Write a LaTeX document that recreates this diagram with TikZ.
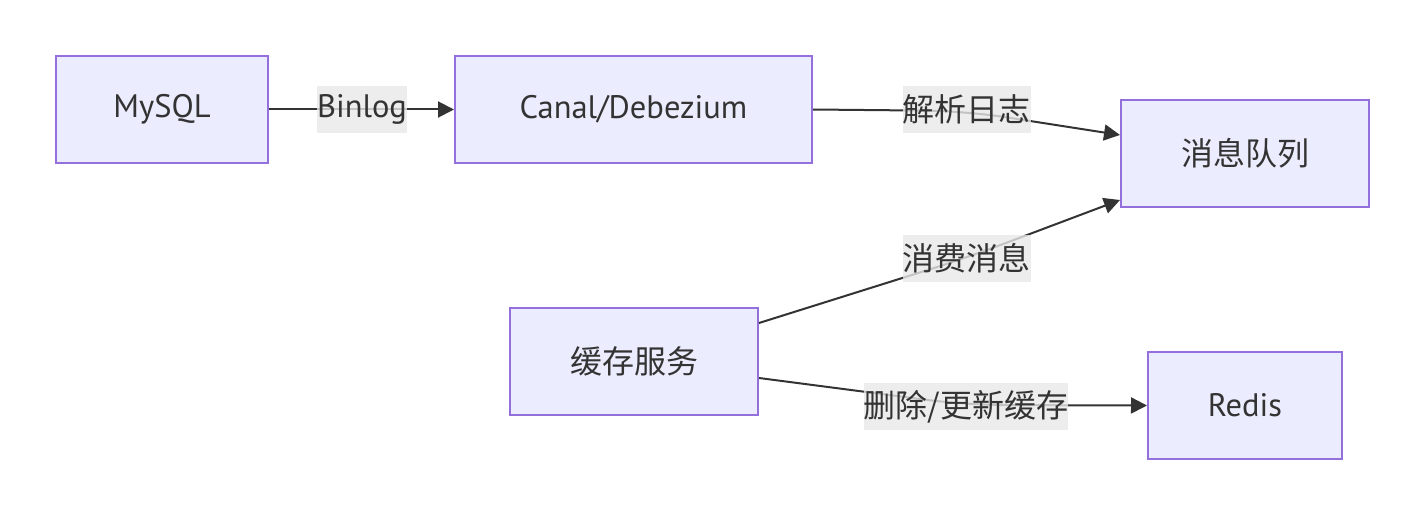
\documentclass[tikz,border=0pt]{standalone}
\usepackage{fontspec}
\setmainfont{PT Sans}
\newfontfamily\cjk{Noto Sans CJK SC}
\usetikzlibrary{arrows.meta}
\definecolor{nodefill}{HTML}{ECECFF}
\definecolor{nodeline}{HTML}{9370DB}
\definecolor{ink}{HTML}{333333}
\definecolor{lblbg}{HTML}{E8E8E8}
\newcommand{\zh}{\cjk\fontsize{32}{36}\selectfont}
\begin{document}
\begin{tikzpicture}[x=1pt,y=-1pt,
  box/.style={draw=nodeline,fill=nodefill,line width=2pt,minimum height=107pt,inner sep=0pt,text=ink,font=\fontsize{32.5}{36}\selectfont},
  lbl/.style={fill=lblbg,fill opacity=0.8,text opacity=1,text=ink,inner xsep=0pt,inner ysep=0pt,minimum height=47pt,font=\fontsize{32.5}{36}\selectfont},
  conn/.style={draw=ink,line width=2pt,rounded corners=40pt,-{Triangle[length=16pt,width=16pt]}}]
\useasboundingbox (0,0) rectangle (1425,516);
\node[box,minimum width=212pt] (mysql) at (162,109.5) {MySQL};
\node[box,minimum width=357pt] (canal) at (633.5,109.5) {Canal/Debezium};
\node[box,minimum width=248pt] (mq) at (1245,153.5) {\zh 消息队列};
\node[box,minimum width=248pt] (svc) at (634,361.5) {\zh 缓存服务};
\node[box,minimum width=194pt] (redis) at (1245,405.5) {Redis};
\coordinate (k1) at (966,111);
\coordinate (k2) at (966,258);
\coordinate (k3) at (966,405);
\draw[conn] (mysql.east) -- (canal.west);
\draw[conn] (canal.east) -- (k1) -- (mq.west |- 0,135);
\draw[conn] (svc.east |- 0,323) -- (k2) -- (mq.west |- 0,200);
\draw[conn] (svc.east |- 0,378) -- (k3) -- (redis.west);
\node[lbl] (l1) at (362,109.5) {Binlog};
\node[lbl] (l2) at (966.5,109.5) {\zh 解析日志};
\node[lbl] (l3) at (966.5,258.5) {\zh 消费消息};
\node[lbl] (l4) at (966,406.5) {\zh 删除/更新缓存};
\end{tikzpicture}
\end{document}
